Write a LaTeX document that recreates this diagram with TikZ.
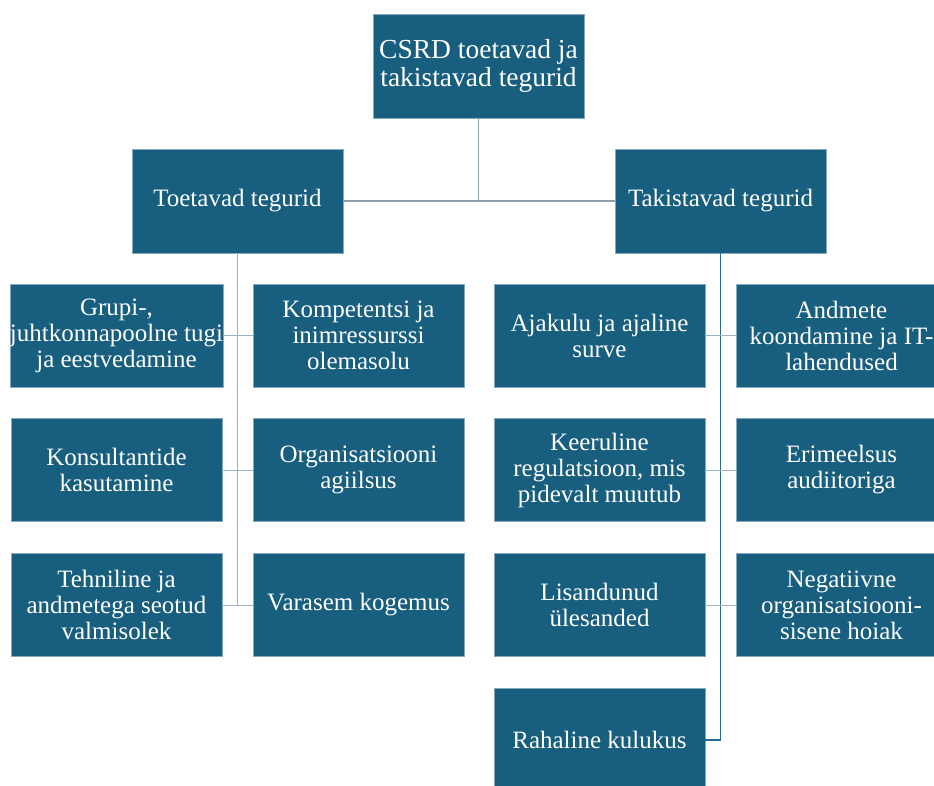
\documentclass[tikz,border=0pt]{standalone}
\usepackage{fontspec}
\setmainfont{Liberation Serif}
\definecolor{boxfill}{HTML}{175E7F}
\definecolor{boxedge}{HTML}{86A9C2}
\definecolor{linkpale}{HTML}{9DB3C5}
\definecolor{linkdark}{HTML}{2A6A90}
\definecolor{linkgrey}{HTML}{8E9FAB}
\begin{document}
\begin{tikzpicture}[x=1pt,y=-1pt,
  factor/.style={rectangle, fill=boxfill, draw=boxedge, line width=0.8pt,
    text=white, align=center, inner sep=0pt,
    minimum width=211pt, minimum height=103pt,
    font=\fontsize{25}{26}\selectfont},
  rootbox/.style={factor, minimum height=104pt, font=\fontsize{27.5}{27.5}\selectfont},
  midbox/.style={factor, minimum height=104pt},
  paleline/.style={draw=linkpale, line width=1pt},
  darkline/.style={draw=linkdark, line width=1.2pt},
  greyline/.style={draw=linkgrey, line width=1.5pt}]
\clip (0,0) rectangle (934,785);
\fill[white] (0,0) rectangle (934,785);

% top levels
\node[rootbox] (root) at (478.5,66) {CSRD toetavad ja\\takistavad tegurid};
\node[midbox] (supp) at (237.5,201) {Toetavad tegurid};
\node[midbox] (hind) at (720.5,201) {Takistavad tegurid};

% supporting factors
\node[factor] (s1) at (116.5,335.5) {Grupi-,\\juhtkonnapoolne tugi\\ja eestvedamine};
\node[factor] (s2) at (358.5,335.5) {Kompetentsi ja\\inimressurssi\\olemasolu};
\node[factor] (s3) at (116.5,470) {Konsultantide\\kasutamine};
\node[factor] (s4) at (358.5,470) {Organisatsiooni\\agiilsus};
\node[factor] (s5) at (116.5,605) {Tehniline ja\\andmetega seotud\\valmisolek};
\node[factor] (s6) at (358.5,605) {Varasem kogemus};

% hindering factors
\node[factor] (h1) at (599.5,335.5) {Ajakulu ja ajaline\\surve};
\node[factor] (h2) at (841.5,335.5) {Andmete\\koondamine ja IT-\\lahendused};
\node[factor] (h3) at (599.5,470) {Keeruline\\regulatsioon, mis\\pidevalt muutub};
\node[factor] (h4) at (841.5,470) {Erimeelsus\\audiitoriga};
\node[factor] (h5) at (599.5,605) {Lisandunud\\ülesanded};
\node[factor] (h6) at (841.5,605) {Negatiivne\\organisatsiooni-\\sisene hoiak};
\node[factor] (h7) at (599.5,740) {Rahaline kulukus};

% root links
\draw[greyline] (root.south) -- (root.south |- supp.east);
\draw[greyline] (supp.east) -- (hind.west);

% supporting links
\draw[paleline] (supp.south) -- (supp.south |- s5.east);
\draw[paleline] (s1.east) -- (s2.west);
\draw[paleline] (s3.east) -- (s4.west);
\draw[paleline] (s5.east) -- (s6.west);

% hindering links
\coordinate (hend) at (hind.south |- h7.east);
\draw[darkline] (hind.south) -- (hend);
\draw[paleline] (h1.east) -- (h2.west);
\draw[paleline] (h3.east) -- (h4.west);
\draw[paleline] (h5.east) -- (h6.west);
\draw[darkline] (h7.east) -- (hend);
\end{tikzpicture}
\end{document}
